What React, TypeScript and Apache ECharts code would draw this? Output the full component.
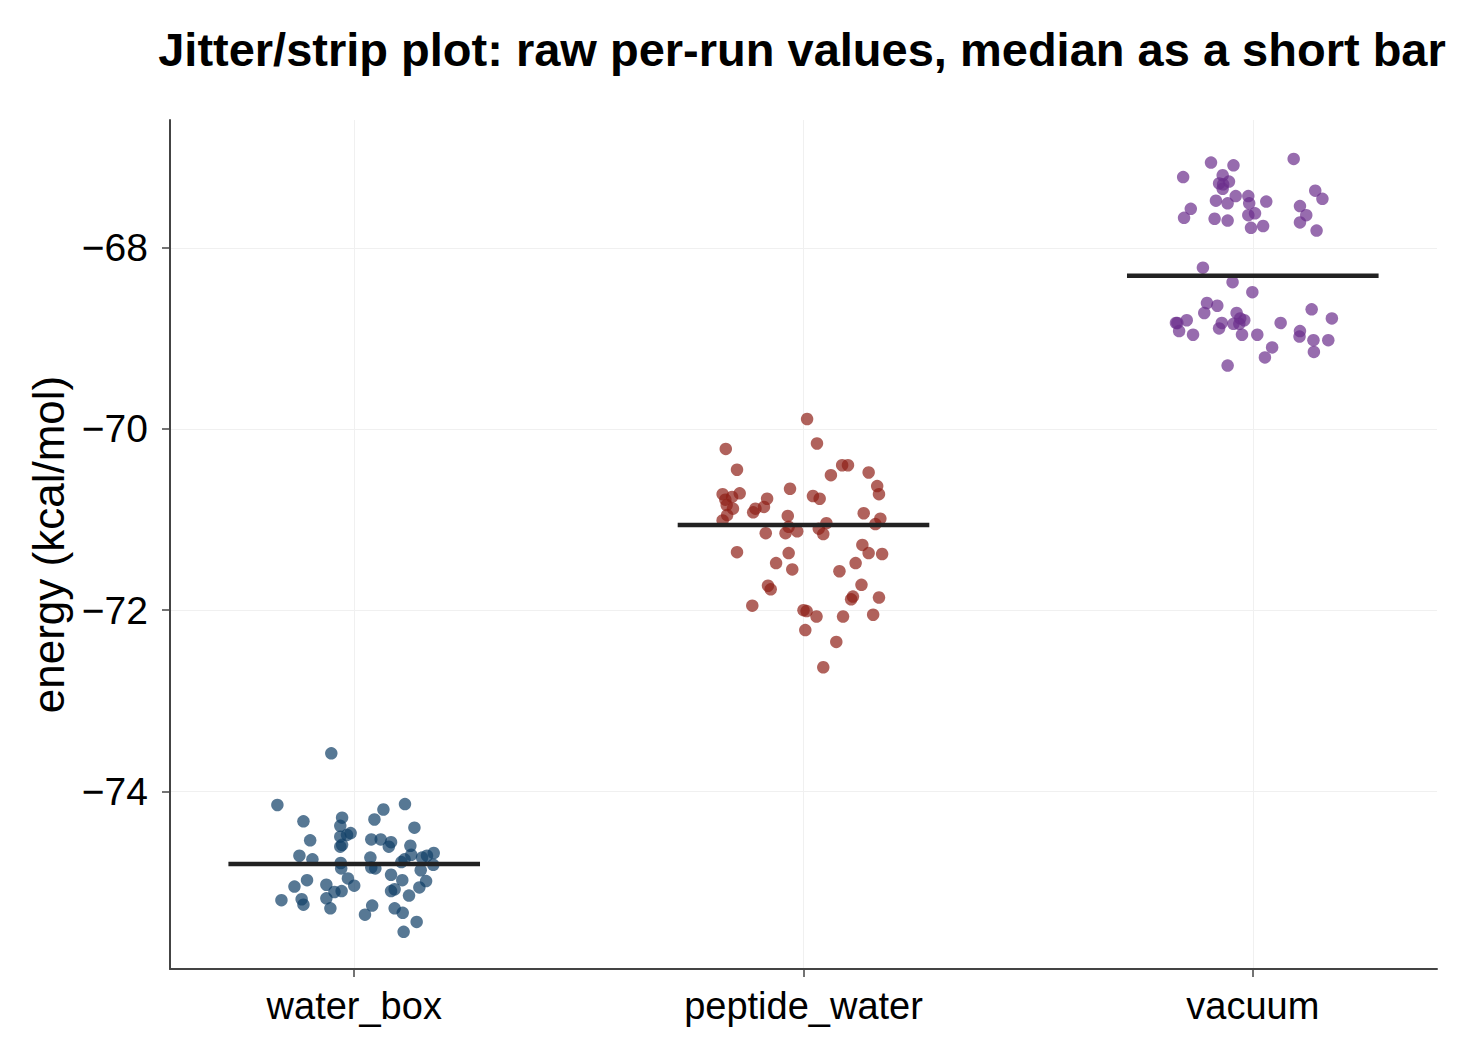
import React, { useEffect, useRef } from "react";
import * as echarts from "echarts";

const categories = ["water_box", "peptide_water", "vacuum"];
const yTicks = [-74, -72, -70, -68];
const medians = [-74.8, -71.06, -68.31];
const colors = ["#0f3f66", "#8f1f17", "#6b2d8c"];

const waterBoxJitter = [-0.051, -0.171, -0.113, -0.027, -0.031, -0.008, -0.016, -0.031, -0.098, -0.027, -0.031, -0.122, -0.093, -0.03, -0.029, -0.105, -0.014, 0.0, -0.062, -0.133, -0.044, -0.028, -0.062, -0.162, -0.117, -0.113, -0.053, 0.113, 0.065, 0.045, 0.134, 0.038, 0.059, 0.082, 0.077, 0.125, 0.127, 0.036, 0.177, 0.162, 0.151, 0.112, 0.105, 0.176, 0.038, 0.047, 0.148, 0.082, 0.107, 0.16, 0.09, 0.082, 0.145, 0.122, 0.04, 0.09, 0.108, 0.024, 0.139, 0.11];
const waterBoxEnergy = [-73.58, -74.15, -74.33, -74.29, -74.38, -74.46, -74.48, -74.5, -74.54, -74.59, -74.61, -74.71, -74.75, -74.79, -74.85, -74.98, -74.96, -75.04, -75.03, -75.05, -75.11, -75.1, -75.18, -75.2, -75.19, -75.25, -75.29, -74.14, -74.2, -74.31, -74.4, -74.53, -74.53, -74.56, -74.61, -74.6, -74.7, -74.73, -74.68, -74.71, -74.73, -74.75, -74.78, -74.81, -74.84, -74.85, -74.87, -74.92, -74.98, -74.99, -75.08, -75.1, -75.06, -75.15, -75.26, -75.29, -75.34, -75.36, -75.44, -75.55];

const peptideWaterJitter = [-0.173, -0.148, -0.18, -0.142, -0.159, -0.174, -0.171, -0.157, -0.081, -0.088, -0.107, -0.112, -0.03, -0.035, -0.17, -0.18, -0.033, -0.084, -0.04, -0.014, 0.008, 0.03, 0.086, 0.099, 0.061, 0.145, 0.164, 0.168, 0.021, 0.036, 0.134, 0.171, 0.16, 0.051, 0.034, 0.044, -0.148, -0.033, -0.061, -0.025, -0.079, -0.073, -0.114, 0.131, 0.145, 0.175, 0.116, 0.08, 0.129, 0.11, 0.106, 0.168, 0.0, 0.007, 0.029, 0.088, 0.155, 0.004, 0.073, 0.044];
const peptideWaterEnergy = [-70.22, -70.45, -70.72, -70.71, -70.75, -70.78, -70.84, -70.88, -70.77, -70.86, -70.88, -70.92, -70.66, -70.96, -70.95, -71.01, -71.08, -71.15, -71.15, -71.13, -69.89, -70.16, -70.4, -70.4, -70.51, -70.48, -70.63, -70.72, -70.74, -70.77, -70.93, -70.99, -71.05, -71.04, -71.1, -71.16, -71.36, -71.37, -71.48, -71.55, -71.73, -71.77, -71.95, -71.28, -71.37, -71.38, -71.48, -71.57, -71.72, -71.85, -71.88, -71.86, -72.0, -72.01, -72.07, -72.07, -72.05, -72.22, -72.35, -72.63];

const vacuumJitter = [-0.093, -0.043, -0.155, -0.067, -0.075, -0.053, -0.066, -0.067, -0.038, -0.082, -0.056, -0.01, -0.008, -0.138, -0.153, -0.085, -0.056, -0.01, 0.005, -0.004, 0.023, 0.091, 0.139, 0.155, 0.03, 0.105, 0.119, 0.105, 0.142, -0.111, -0.045, -0.001, -0.102, -0.079, -0.108, -0.147, -0.168, -0.171, -0.164, -0.133, -0.069, -0.075, -0.036, -0.028, -0.019, -0.043, -0.03, -0.024, 0.01, -0.056, 0.131, 0.176, 0.062, 0.105, 0.104, 0.135, 0.168, 0.043, 0.136, 0.027];
const vacuumEnergy = [-67.06, -67.09, -67.22, -67.2, -67.29, -67.27, -67.3, -67.35, -67.43, -67.48, -67.51, -67.43, -67.51, -67.57, -67.67, -67.68, -67.7, -67.64, -67.62, -67.78, -67.76, -67.02, -67.37, -67.46, -67.49, -67.54, -67.64, -67.72, -67.81, -68.22, -68.38, -68.49, -68.61, -68.64, -68.72, -68.8, -68.83, -68.83, -68.92, -68.96, -68.83, -68.89, -68.72, -68.78, -68.8, -68.84, -68.84, -68.96, -68.96, -69.3, -68.68, -68.78, -68.83, -68.92, -68.98, -69.02, -69.02, -69.1, -69.15, -69.21];

const groups = [
  { jitter: waterBoxJitter, energy: waterBoxEnergy },
  { jitter: peptideWaterJitter, energy: peptideWaterEnergy },
  { jitter: vacuumJitter, energy: vacuumEnergy },
];

const FONT = "'Liberation Sans', Arial, Helvetica, sans-serif";
const MEDIAN_HALF = 0.28;

export default function App() {
  const ref = useRef<HTMLDivElement>(null);
  useEffect(() => {
    if (!ref.current) return;
    const chart = echarts.init(ref.current, undefined, { renderer: "svg" });
    const scatterSeries = groups.map((g, i) => ({
      type: "scatter",
      name: categories[i],
      data: g.jitter.map((j, k) => [i + j, g.energy[k]]),
      symbolSize: 12.5,
      itemStyle: { color: colors[i], opacity: 0.7 },
      z: 2,
    }));
    const medianSeries = medians.map((m, i) => ({
      type: "line",
      data: [
        [i - MEDIAN_HALF, m],
        [i + MEDIAN_HALF, m],
      ],
      symbol: "none",
      lineStyle: { color: "#222222", width: 4.5 },
      z: 5,
    }));
    chart.setOption({
      animation: false,
      backgroundColor: "#ffffff",
      textStyle: { fontFamily: FONT },
      graphic: [
        {
          type: "text",
          x: 802,
          y: 49,
          style: {
            text: "Jitter/strip plot: raw per-run values, median as a short bar",
            font: `bold 47px ${FONT}`,
            fill: "#000000",
            textAlign: "center",
            textVerticalAlign: "middle",
          },
        },
      ],
      grid: { left: 170, right: 31, top: 120, bottom: 86, containLabel: false },
      xAxis: {
        type: "value",
        min: -0.41,
        max: 2.41,
        axisLine: { show: true, onZero: false, lineStyle: { color: "#444444", width: 2 } },
        axisTick: { show: true, length: 8, lineStyle: { color: "#444444", width: 1.5 }, customValues: [0, 1, 2] },
        axisLabel: {
          customValues: [0, 1, 2],
          formatter: (v: number) => categories[Math.round(v)] ?? "",
          fontSize: 38,
          color: "#000000",
          margin: 18,
          fontFamily: FONT,
        },
        splitLine: { show: true, lineStyle: { color: "#f0f0f0", width: 1 } },
      },
      yAxis: {
        type: "value",
        min: -75.96,
        max: -66.59,
        name: "energy (kcal/mol)",
        nameLocation: "middle",
        nameGap: 100,
        nameTextStyle: { fontSize: 44, color: "#000000", fontFamily: FONT },
        axisLine: { show: true, onZero: false, lineStyle: { color: "#444444", width: 2 } },
        axisTick: { show: true, length: 8, lineStyle: { color: "#444444", width: 1.5 }, customValues: yTicks },
        axisLabel: {
          customValues: yTicks,
          formatter: (v: number) => String(v).replace("-", "\u2212"),
          fontSize: 39,
          color: "#000000",
          margin: 22,
          fontFamily: FONT,
        },
        splitLine: { show: true, lineStyle: { color: "#f0f0f0", width: 1 } },
      },
      series: [...scatterSeries, ...medianSeries],
    });
    return () => chart.dispose();
  }, []);
  return <div ref={ref} style={{ position: "fixed", left: 0, top: 0, width: 1468, height: 1055 }} />;
}
